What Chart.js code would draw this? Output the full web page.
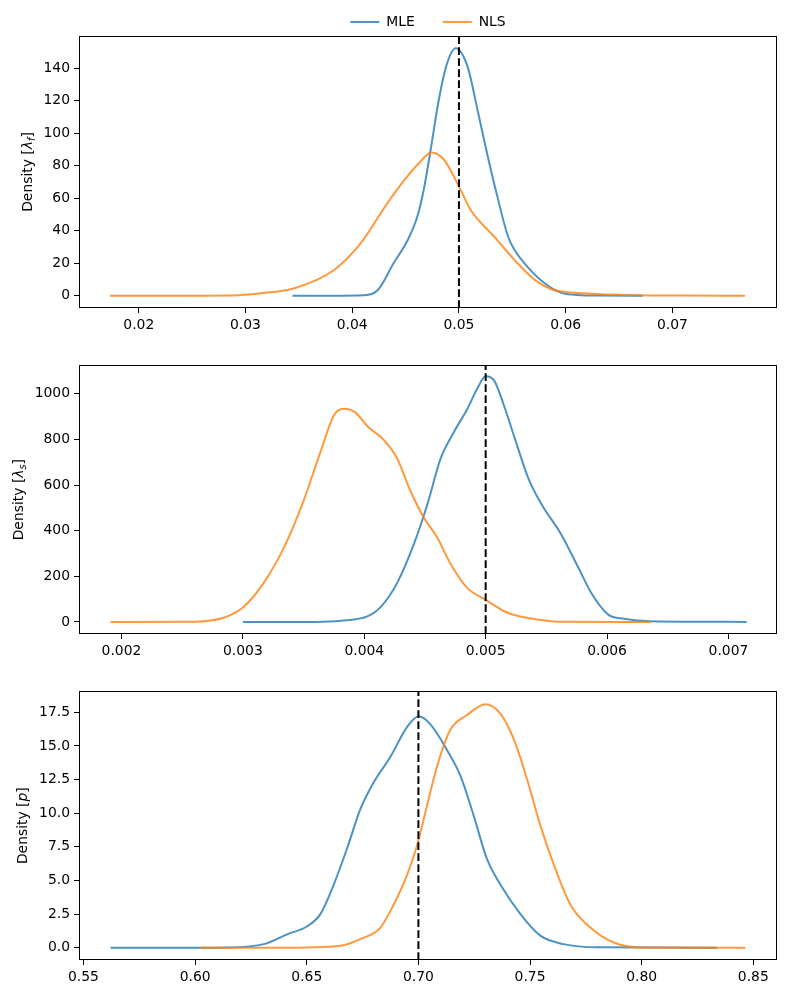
<!DOCTYPE html>
<html>
<head>
<meta charset="utf-8">
<script src="https://cdn.jsdelivr.net/npm/chart.js@4.4.1/dist/chart.umd.min.js"></script>
<style>
body { margin: 0; background: #fff; width: 785px; height: 994px; overflow: hidden; position: relative; }
canvas { position: absolute; left: 0; }
</style>
</head>
<body>
<canvas id="c1" width="785" height="353" style="top:-13px"></canvas>
<canvas id="c2" width="785" height="313" style="top:353px"></canvas>
<canvas id="c3" width="785" height="315" style="top:679px"></canvas>
<script>
// lambda_f densities
const lfMleX = [0.0344, 0.0380, 0.0411, 0.0424, 0.0439, 0.0452, 0.0461, 0.0467, 0.0474, 0.0480, 0.0488, 0.0497, 0.0508, 0.0518, 0.0527, 0.0536, 0.0546, 0.0552, 0.0564, 0.0580, 0.0596, 0.0615, 0.0630, 0.0672];
const lfMleY = [0, 0, 0.3, 3.5, 20.2, 34.3, 48.7, 65.2, 91.9, 116.5, 141.2, 152.4, 141.2, 112.6, 85.7, 61.0, 36.4, 28.2, 17.9, 7.8, 1.7, 0.3, 0.05, 0];
const lfNlsX = [0.0173, 0.0250, 0.0286, 0.0300, 0.0314, 0.0346, 0.0383, 0.0408, 0.0433, 0.0449, 0.0464, 0.0474, 0.0486, 0.0500, 0.0511, 0.0533, 0.0552, 0.0571, 0.0586, 0.0596, 0.0625, 0.0650, 0.0680, 0.0710, 0.0768];
const lfNlsY = [0, 0, 0.1, 0.5, 1.5, 4.6, 15.8, 32.3, 57.0, 71.3, 82.6, 88.2, 83.7, 67.2, 52.8, 36.4, 22.0, 9.7, 4.1, 2.5, 1.2, 0.5, 0.15, 0.03, 0];
const lfXTicks = [0.02, 0.03, 0.04, 0.05, 0.06, 0.07];
const lfYTicks = [0, 20, 40, 60, 80, 100, 120, 140];

// lambda_s densities
const lsMleX = [0.00300, 0.00360, 0.00381, 0.00403, 0.00414, 0.00427, 0.00441, 0.00452, 0.00463, 0.00474, 0.00485, 0.00493, 0.00500, 0.00507, 0.00515, 0.00524, 0.00535, 0.00546, 0.00562, 0.00576, 0.00587, 0.00601, 0.00614, 0.00636, 0.00715];
const lsMleY = [0, 0, 5, 25, 68, 170, 343, 516, 718, 834, 935, 1022, 1077, 1058, 950, 805, 632, 516, 386, 242, 127, 32, 14, 3, 0];
const lsNlsX = [0.00191, 0.00260, 0.00284, 0.00301, 0.00317, 0.00334, 0.00350, 0.00364, 0.00375, 0.00383, 0.00392, 0.00403, 0.00416, 0.00427, 0.00438, 0.00449, 0.00460, 0.00471, 0.00485, 0.00500, 0.00518, 0.00546, 0.00560, 0.00636];
const lsNlsY = [0, 1, 18, 68, 170, 328, 531, 747, 906, 935, 921, 856, 798, 718, 574, 458, 371, 255, 148, 97, 40, 8, 1, 0];
const lsXTicks = [0.002, 0.003, 0.004, 0.005, 0.006, 0.007];
const lsYTicks = [0, 200, 400, 600, 800, 1000];

// p densities
const pMleX = [0.5621, 0.5935, 0.6158, 0.6308, 0.6412, 0.6502, 0.6561, 0.6621, 0.6681, 0.6740, 0.6800, 0.6875, 0.6949, 0.7001, 0.7054, 0.7128, 0.7188, 0.7248, 0.7307, 0.7367, 0.7457, 0.7546, 0.7650, 0.7800, 0.8338];
const pMleY = [0, 0, 0.02, 0.27, 1.0, 1.6, 2.5, 4.7, 7.4, 10.3, 12.3, 14.2, 16.4, 17.2, 16.6, 14.7, 12.8, 9.8, 6.6, 4.7, 2.5, 0.9, 0.27, 0.03, 0];
const pNlsX = [0.6024, 0.6382, 0.6651, 0.6740, 0.6830, 0.6889, 0.6949, 0.6994, 0.7039, 0.7084, 0.7143, 0.7218, 0.7300, 0.7367, 0.7427, 0.7487, 0.7546, 0.7606, 0.7681, 0.7770, 0.7874, 0.7994, 0.8464];
const pNlsY = [0, 0, 0.15, 0.64, 1.5, 3.2, 5.4, 7.6, 10.6, 13.5, 16.2, 17.3, 18.1, 17.4, 15.5, 12.5, 9.1, 6.2, 3.2, 1.5, 0.39, 0.02, 0];
const pXTicks = [0.55, 0.60, 0.65, 0.70, 0.75, 0.80, 0.85];
const pYTicks = [0, 2.5, 5, 7.5, 10, 12.5, 15, 17.5];

const trueValues = [0.05, 0.005, 0.70];
const seriesNames = ['MLE', 'NLS'];

const BLUE = 'rgba(31,119,180,0.8)';
const ORANGE = 'rgba(255,127,14,0.8)';
const FONT = 'DejaVu Sans';
const FS = 13.9;

// frame around the axes + y label with italic/subscript parts
const framePlugin = {
    id: 'frame',
    afterDraw(chart, args, opts) {
        const a = chart.chartArea;
        const ctx = chart.ctx;
        ctx.save();
        ctx.strokeStyle = '#000';
        ctx.lineWidth = 1;
        ctx.strokeRect(Math.round(a.left) + 0.5, Math.round(a.top) + 0.5, Math.round(a.right - a.left) - 1, Math.round(a.bottom - a.top) - 1);

        ctx.fillStyle = '#000';
        ctx.translate(opts.x, (a.top + a.bottom) / 2);
        ctx.rotate(-Math.PI / 2);
        ctx.textBaseline = 'alphabetic';
        let total = 0;
        const parts = opts.title.map(p => {
            const size = p.sub ? FS * 0.7 : FS;
            const f = (p.it ? 'italic ' : '') + size + 'px "' + FONT + '"';
            ctx.font = f;
            const w = ctx.measureText(p.t).width;
            total += w;
            return { t: p.t, f: f, w: w, sub: p.sub };
        });
        let cx = -total / 2;
        parts.forEach(p => {
            ctx.font = p.f;
            ctx.fillText(p.t, cx, p.sub ? FS * 0.36 + 3 : FS * 0.36);
            cx += p.w;
        });
        ctx.restore();
    }
};

function toPts(xs, ys) {
    return xs.map((x, i) => ({ x: x, y: ys[i] }));
}

function makePanel(id, p) {
    const curve = (label, pts, color, order) => ({
        label: label, data: pts, borderColor: color, backgroundColor: color,
        borderWidth: 2, pointRadius: 0, cubicInterpolationMode: 'monotone', order: order, fill: false
    });
    new Chart(document.getElementById(id), {
        type: 'line',
        data: {
            datasets: [
                curve(seriesNames[0], toPts(p.mleX, p.mleY), BLUE, 3),
                curve(seriesNames[1], toPts(p.nlsX, p.nlsY), ORANGE, 2),
                {
                    label: 'true', data: [{ x: p.truth, y: p.ymin }, { x: p.truth, y: p.ymax }],
                    borderColor: '#000', borderWidth: 2, borderDash: [7.7, 3.3], pointRadius: 0, tension: 0, order: 1
                }
            ]
        },
        options: {
            responsive: false,
            animation: false,
            devicePixelRatio: 1,
            layout: { padding: { top: p.padTop, right: 8, left: 0, bottom: 0 } },
            plugins: {
                legend: {
                    display: p.legend,
                    position: 'top',
                    fullSize: false,
                    maxHeight: 49,
                    labels: {
                        usePointStyle: true, pointStyle: 'line', pointStyleWidth: 29,
                        padding: 28, color: '#000', font: { family: FONT, size: FS },
                        filter: item => item.datasetIndex < 2,
                        sort: (a, b) => a.datasetIndex - b.datasetIndex
                    }
                },
                tooltip: { enabled: false },
                frame: { x: p.titleX, title: p.title }
            },
            scales: {
                x: {
                    type: 'linear', min: p.xmin, max: p.xmax,
                    afterFit: s => { s.height = p.xAxisH; },
                    afterBuildTicks: s => { s.ticks = p.xTicks.map(v => ({ value: v })); },
                    border: { display: false },
                    grid: { display: true, drawOnChartArea: false, drawTicks: true, tickLength: 5, tickColor: '#000' },
                    ticks: {
                        maxRotation: 0, autoSkip: false,
                        padding: 4, color: '#000', font: { family: FONT, size: FS },
                        callback: v => v.toFixed(p.xdec)
                    }
                },
                y: {
                    type: 'linear', min: p.ymin, max: p.ymax,
                    afterFit: s => { s.width = 79; },
                    afterBuildTicks: s => { s.ticks = p.yTicks.map(v => ({ value: v })); },
                    border: { display: false },
                    grid: { display: true, drawOnChartArea: false, drawTicks: true, tickLength: 5, tickColor: '#000' },
                    ticks: {
                        autoSkip: false,
                        padding: 4, color: '#000', font: { family: FONT, size: FS },
                        callback: v => v.toFixed(p.ydec)
                    }
                }
            }
        },
        plugins: [framePlugin]
    });
}

makePanel('c1', {
    mleX: lfMleX, mleY: lfMleY, nlsX: lfNlsX, nlsY: lfNlsY, truth: trueValues[0],
    xmin: 0.0144, xmax: 0.0798, xTicks: lfXTicks, xdec: 2,
    ymin: -7.6, ymax: 159.9, yTicks: lfYTicks, ydec: 0,
    padTop: 0, xAxisH: 32, legend: true, titleX: 27,
    title: [{ t: 'Density [' }, { t: 'λ', it: true }, { t: 'f', it: true, sub: true }, { t: ']' }]
});
makePanel('c2', {
    mleX: lsMleX, mleY: lsMleY, nlsX: lsNlsX, nlsY: lsNlsY, truth: trueValues[1],
    xmin: 0.00165, xmax: 0.0074, xTicks: lsXTicks, xdec: 3,
    ymin: -53, ymax: 1125, yTicks: lsYTicks, ydec: 0,
    padTop: 10, xAxisH: 32, legend: false, titleX: 18,
    title: [{ t: 'Density [' }, { t: 'λ', it: true }, { t: 's', it: true, sub: true }, { t: ']' }]
});
makePanel('c3', {
    mleX: pMleX, mleY: pMleY, nlsX: pNlsX, nlsY: pNlsY, truth: trueValues[2],
    xmin: 0.548, xmax: 0.8606, xTicks: pXTicks, xdec: 2,
    ymin: -0.91, ymax: 19.06, yTicks: pYTicks, ydec: 1,
    padTop: 10, xAxisH: 34, legend: false, titleX: 22,
    title: [{ t: 'Density [' }, { t: 'p', it: true }, { t: ']' }]
});
</script>
</body>
</html>
